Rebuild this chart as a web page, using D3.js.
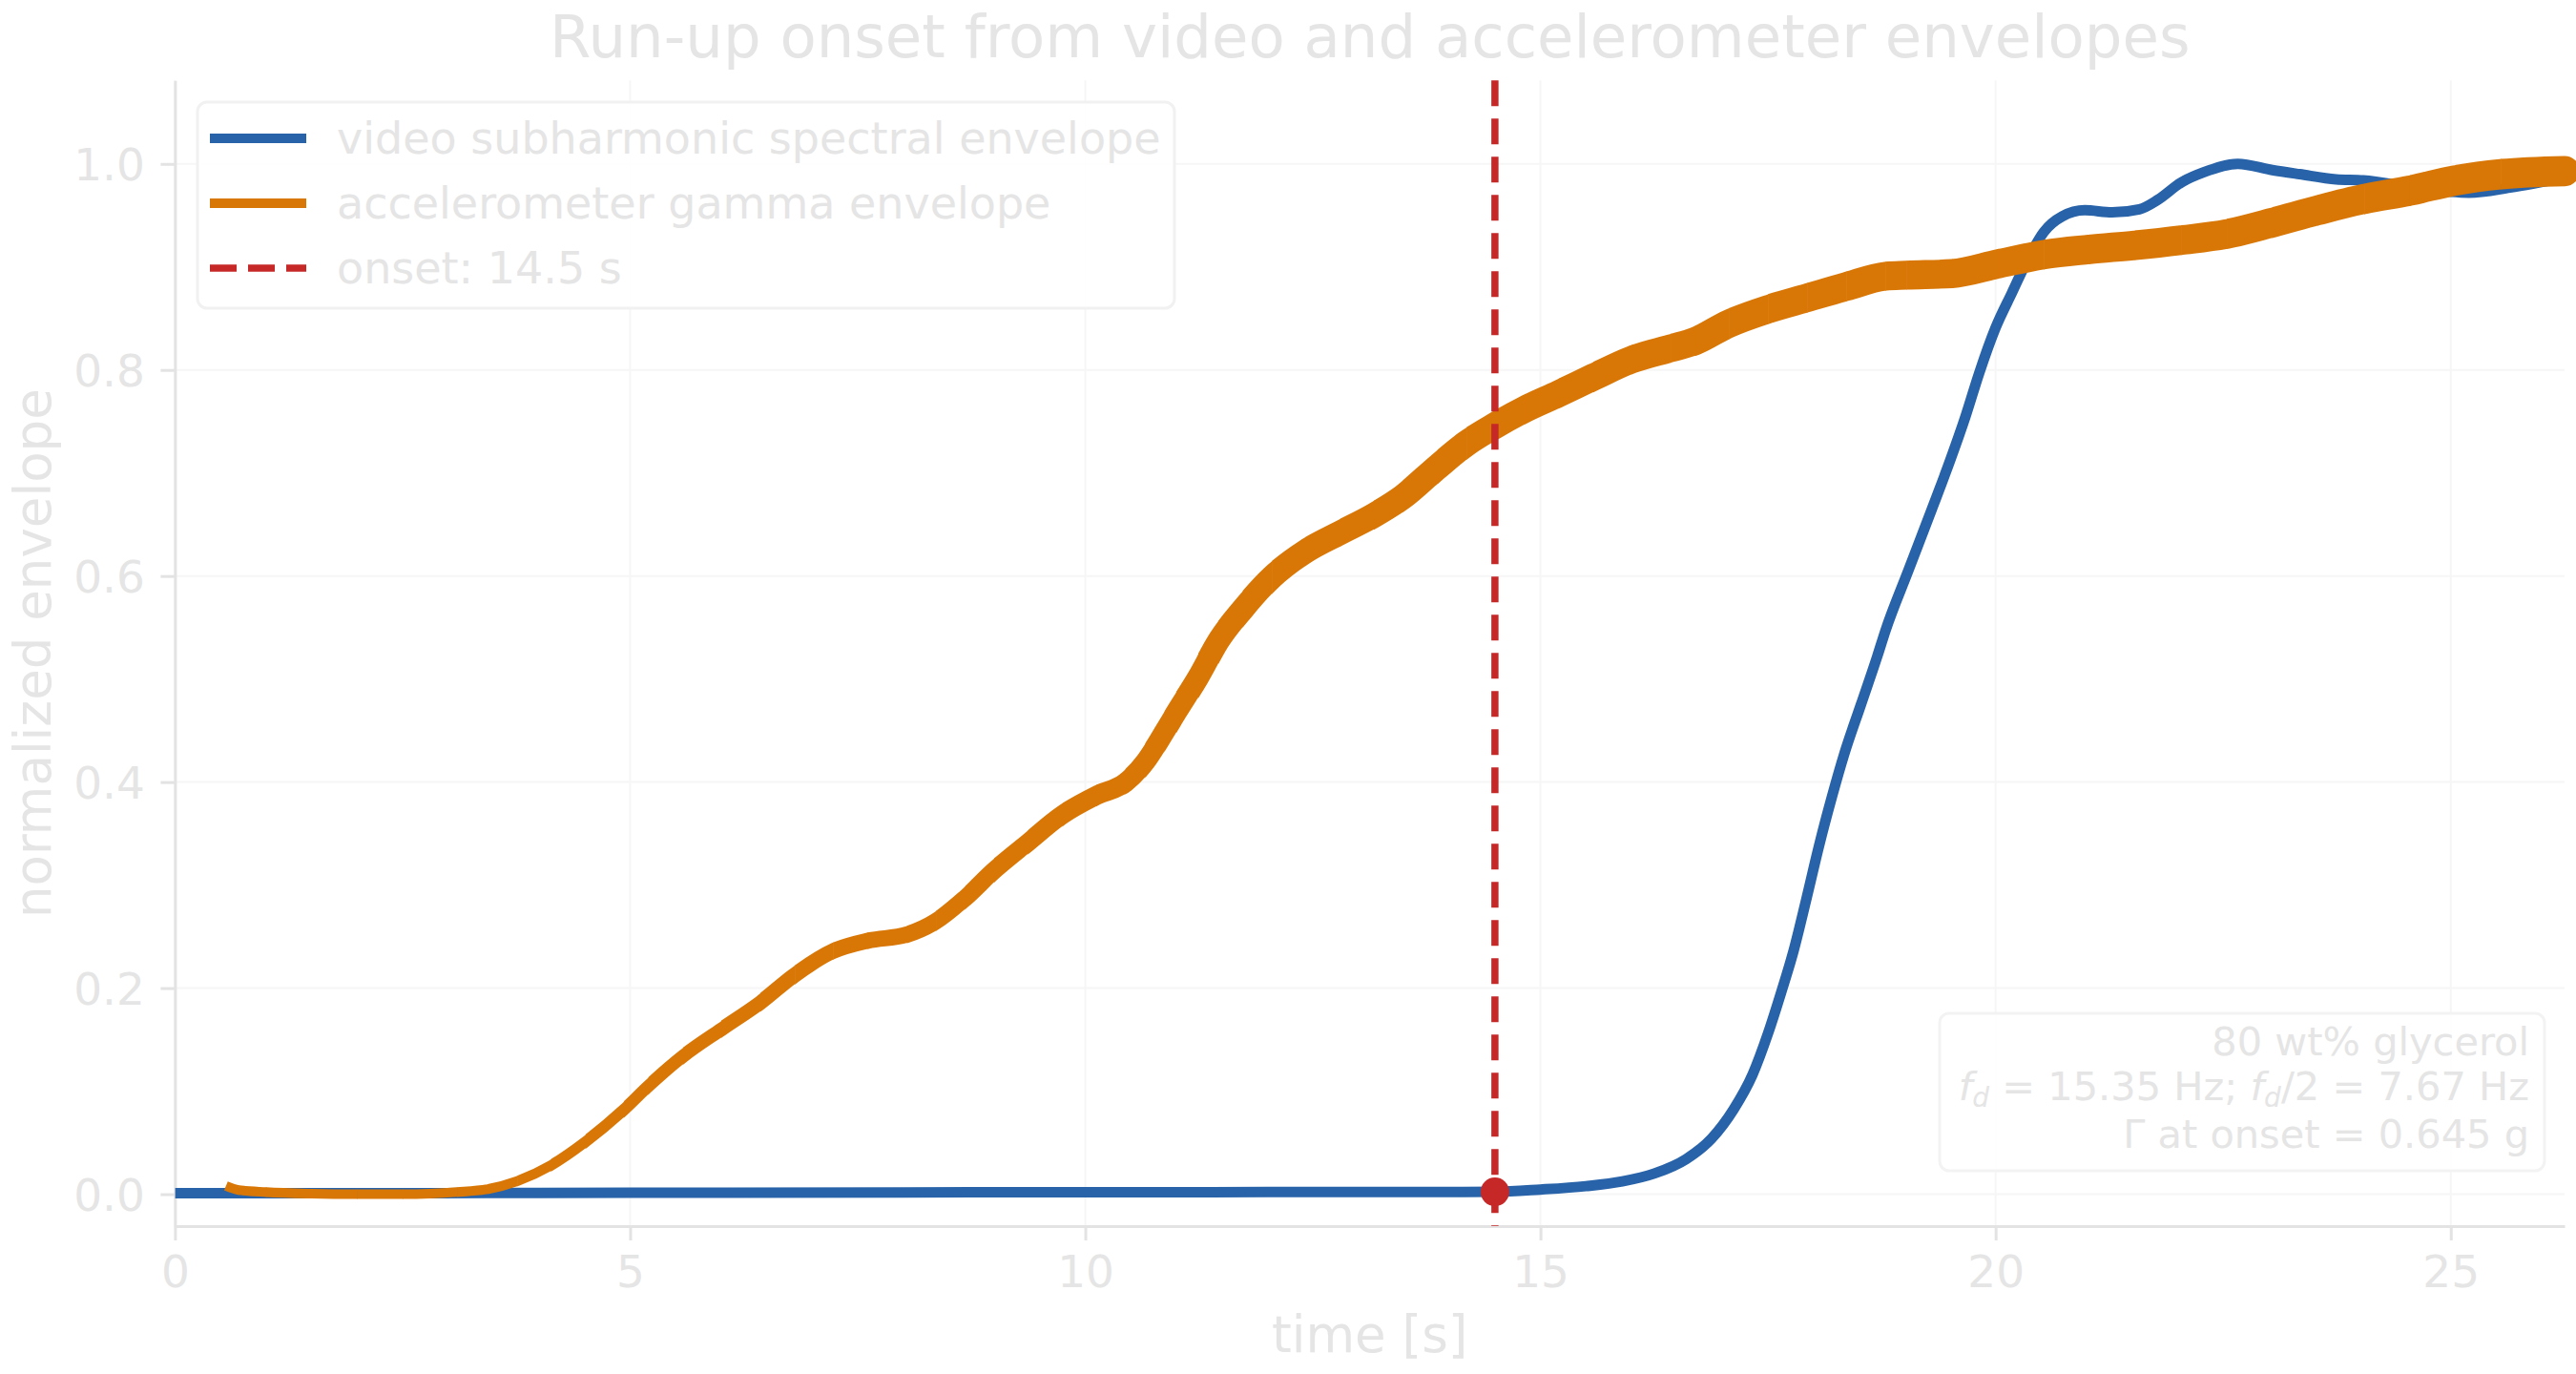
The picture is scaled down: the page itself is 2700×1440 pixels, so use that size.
<!DOCTYPE html>
<html>
<head>
<meta charset="utf-8">
<script src="https://cdn.jsdelivr.net/npm/d3@7"></script>
<style>
  html, body { margin: 0; padding: 0; background: #ffffff; }
  svg { display: block; font-family: "DejaVu Sans", sans-serif; }
</style>
</head>
<body>
<svg id="chart" width="2700" height="1440"></svg>
<script>
// ---------------- data ----------------
const titleText = "Run-up onset from video and accelerometer envelopes";
const xLabelText = "time [s]";
const yLabelText = "normalized envelope";

const xTicks = [0, 5, 10, 15, 20, 25];
const yTicks = [0.0, 0.2, 0.4, 0.6, 0.8, 1.0];

const videoT = [0, 2, 4, 6, 8, 10, 12, 14, 14.5, 15.0, 15.5, 15.9, 16.25, 16.6, 16.88, 17.12, 17.33, 17.5,
  17.645, 17.78, 17.92, 18.06, 18.2, 18.34, 18.52, 18.7, 18.79, 19.04, 19.3, 19.5, 19.67, 19.82, 20.0, 20.18,
  20.33, 20.53, 20.73, 20.98, 21.28, 21.58, 21.78, 22.04, 22.29, 22.66, 23.04, 23.34, 23.74, 24.04, 24.6,
  25.2, 25.65, 26.25];
const videoV = [0.001, 0.001, 0.0012, 0.0015, 0.0017, 0.0019, 0.002, 0.0022, 0.0023, 0.0045, 0.0078, 0.0124,
  0.020, 0.034, 0.054, 0.082, 0.116, 0.156, 0.196, 0.236, 0.286, 0.338, 0.385, 0.428, 0.475, 0.522, 0.547,
  0.605, 0.665, 0.712, 0.755, 0.797, 0.841, 0.875, 0.903, 0.934, 0.949, 0.955, 0.953, 0.956, 0.965, 0.982,
  0.992, 1.0, 0.994, 0.99, 0.985, 0.984, 0.977, 0.972, 0.977, 0.987];

const accelT = [0.56, 0.7, 1.0, 1.5, 2.0, 2.5, 2.8, 3.1, 3.44, 3.76, 4.13, 4.51, 4.93, 5.2, 5.58, 6.0, 6.43,
  6.81, 7.23, 7.61, 8.04, 8.36, 8.68, 9.0, 9.37, 9.75, 10.12, 10.44, 10.66, 10.87, 11.0, 11.24, 11.46, 11.73,
  12.05, 12.42, 12.8, 13.17, 13.49, 13.87, 14.19, 14.5, 14.83, 15.2, 15.58, 16.0, 16.43, 16.7, 17.07, 17.5,
  17.93, 18.36, 18.79, 19.02, 19.52, 20.03, 20.53, 21.03, 21.53, 22.04, 22.54, 23.04, 23.54, 24.05, 24.55,
  25.05, 25.55, 26.25];
const accelV = [0.008, 0.004, 0.002, 0.0005, 0.0, 0.0, 0.0005, 0.002, 0.005, 0.0127, 0.028, 0.051, 0.082,
  0.105, 0.134, 0.16, 0.186, 0.213, 0.236, 0.246, 0.252, 0.265, 0.2875, 0.3145, 0.3415, 0.3685, 0.387, 0.3996,
  0.42, 0.449, 0.468, 0.502, 0.537, 0.568, 0.599, 0.624, 0.642, 0.659, 0.677, 0.706, 0.729, 0.746, 0.762,
  0.777, 0.793, 0.81, 0.821, 0.828, 0.845, 0.859, 0.87, 0.881, 0.891, 0.892, 0.8935, 0.903, 0.912, 0.917,
  0.921, 0.926, 0.932, 0.943, 0.955, 0.966, 0.974, 0.984, 0.99, 0.993];

const onsetT = 14.5;
const onsetV = 0.0023;

const legendLabels = ["video subharmonic spectral envelope", "accelerometer gamma envelope", "onset: 14.5 s"];
const annotLine1 = "80 wt% glycerol";
const annotLine3 = "\u0393 at onset = 0.645 g";

// ---------------- styles ----------------
const C_BLUE = "#2863a9";
const C_ORANGE = "#d97706";
const C_RED = "#c62828";
const C_TEXT = "#e5e5e5";
const C_SPINE = "#e3e3e3";
const C_GRID = "#f6f6f6";

const svg = d3.select("#chart");
const x = d3.scaleLinear().domain([0, 26.25]).range([183.4, 2688]);
const y = d3.scaleLinear().domain([-0.031, 1.081]).range([1285, 84.3]);
const [xL, xR] = x.range();
const [yB, yT] = y.range();

// grid
const grid = svg.append("g");
grid.selectAll("line.gx").data(xTicks).join("line")
  .attr("x1", d => x(d)).attr("x2", d => x(d)).attr("y1", yT).attr("y2", yB)
  .attr("stroke", C_GRID).attr("stroke-width", 2);
grid.selectAll("line.gy").data(yTicks).join("line")
  .attr("x1", xL).attr("x2", xR).attr("y1", d => y(d)).attr("y2", d => y(d))
  .attr("stroke", C_GRID).attr("stroke-width", 2);

// axes
const xAxis = svg.append("g").attr("transform", `translate(0,${yB})`)
  .call(d3.axisBottom(x).tickValues(xTicks).tickSize(15).tickSizeOuter(0).tickFormat(d3.format("d")));
const yAxis = svg.append("g").attr("transform", `translate(${xL},0)`)
  .call(d3.axisLeft(y).tickValues(yTicks).tickSize(15).tickSizeOuter(0).tickFormat(d3.format(".1f")));
[xAxis, yAxis].forEach(g => {
  g.select(".domain").attr("stroke", C_SPINE).attr("stroke-width", 3);
  g.selectAll(".tick line").attr("stroke", C_SPINE).attr("stroke-width", 3);
  g.selectAll(".tick text").attr("fill", C_TEXT).attr("font-size", 47)
    .attr("font-family", "DejaVu Sans, sans-serif");
});
xAxis.selectAll(".tick text").attr("y", 64).attr("dy", null);
yAxis.selectAll(".tick text").attr("x", -31.5).attr("dy", "0.355em");

// clip for plot area
svg.append("clipPath").attr("id", "plotclip").append("rect")
  .attr("x", xL).attr("y", yT).attr("width", xR - xL + 20).attr("height", yB - yT);

const plot = svg.append("g").attr("clip-path", "url(#plotclip)");

// video line
const videoData = videoT.map((t, i) => [t, videoV[i]]);
const lineGen = d3.line().x(d => x(d[0])).y(d => y(d[1])).curve(d3.curveMonotoneX);
plot.append("path").datum(videoData).attr("d", lineGen)
  .attr("fill", "none").attr("stroke", C_BLUE).attr("stroke-width", 11)
  .attr("stroke-linejoin", "round").attr("stroke-linecap", "butt");

// accelerometer line: noisy envelope rendered as a band whose thickness grows with level
const accelData = accelT.map((t, i) => [t, accelV[i]]);
const accelPath = lineGen(accelData);
const bandWidth = v => 10 + 30 * v - 8 * v * v;
const defs = svg.append("defs");
for (let i = 0; i < accelData.length - 1; i++) {
  const x0 = i === 0 ? x(accelData[0][0]) - 40 : x(accelData[i][0]);
  const x1 = i === accelData.length - 2 ? x(accelData[i + 1][0]) + 40 : x(accelData[i + 1][0]) + 0.6;
  defs.append("clipPath").attr("id", "ac" + i).append("rect")
    .attr("x", x0).attr("y", 0).attr("width", x1 - x0).attr("height", 1440);
  const vm = (accelData[i][1] + accelData[i + 1][1]) / 2;
  plot.append("g").attr("clip-path", `url(#ac${i})`).append("path")
    .attr("d", accelPath).attr("fill", "none").attr("stroke", C_ORANGE)
    .attr("stroke-width", bandWidth(vm)).attr("stroke-linejoin", "round")
    .attr("stroke-linecap", i === 0 ? "butt" : "round");
}

// onset line + marker
svg.append("line").attr("x1", x(onsetT)).attr("x2", x(onsetT)).attr("y1", yT).attr("y2", yB)
  .attr("stroke", C_RED).attr("stroke-width", 7.5).attr("stroke-dasharray", "27,13");
svg.append("circle").attr("cx", x(onsetT)).attr("cy", y(onsetV)).attr("r", 15).attr("fill", C_RED);

// title & labels
svg.append("text").attr("x", (xL + xR) / 2).attr("y", 60).attr("text-anchor", "middle")
  .attr("font-size", 62.5).attr("fill", C_TEXT).text(titleText);
svg.append("text").attr("x", (xL + xR) / 2).attr("y", 1417).attr("text-anchor", "middle")
  .attr("font-size", 53).attr("fill", C_TEXT).text(xLabelText);
svg.append("text").attr("transform", `translate(53,${(yT + yB) / 2}) rotate(-90)`).attr("text-anchor", "middle")
  .attr("font-size", 53).attr("fill", C_TEXT).text(yLabelText);

// legend
const lg = svg.append("g");
lg.append("rect").attr("x", 207).attr("y", 107).attr("width", 1024).attr("height", 216).attr("rx", 10)
  .attr("fill", "#ffffff").attr("fill-opacity", 0.85).attr("stroke", "#f1f1f1").attr("stroke-width", 3);
const legStyles = [
  { c: C_BLUE, w: 10, dash: null },
  { c: C_ORANGE, w: 10, dash: null },
  { c: C_RED, w: 7.5, dash: "28,12" }
];
legendLabels.forEach((lab, i) => {
  const ly = 145 + i * 68;
  lg.append("line").attr("x1", 220).attr("x2", 321).attr("y1", ly).attr("y2", ly)
    .attr("stroke", legStyles[i].c).attr("stroke-width", legStyles[i].w)
    .attr("stroke-dasharray", legStyles[i].dash);
  lg.append("text").attr("x", 353).attr("y", ly + 16).attr("font-size", 46).attr("fill", C_TEXT).text(lab);
});

// annotation box
const ab = svg.append("g");
ab.append("rect").attr("x", 2033).attr("y", 1062).attr("width", 634).attr("height", 165).attr("rx", 10)
  .attr("fill", "#ffffff").attr("fill-opacity", 0.85).attr("stroke", "#f3f3f3").attr("stroke-width", 3);
ab.append("text").attr("x", 2651).attr("y", 1106).attr("text-anchor", "end")
  .attr("font-size", 41.5).attr("fill", C_TEXT).text(annotLine1);
const t2 = ab.append("text").attr("x", 2651).attr("y", 1153).attr("text-anchor", "end")
  .attr("font-size", 41.5).attr("fill", C_TEXT);
t2.append("tspan").attr("font-style", "italic").text("f");
t2.append("tspan").attr("font-style", "italic").attr("font-size", 28).attr("dy", 7).text("d");
t2.append("tspan").attr("dy", -7).text(" = 15.35 Hz; ");
t2.append("tspan").attr("font-style", "italic").text("f");
t2.append("tspan").attr("font-style", "italic").attr("font-size", 28).attr("dy", 7).text("d");
t2.append("tspan").attr("dy", -7).text("/2 = 7.67 Hz");
ab.append("text").attr("x", 2651).attr("y", 1203).attr("text-anchor", "end")
  .attr("font-size", 41.5).attr("fill", C_TEXT).text(annotLine3);
</script>
</body>
</html>
